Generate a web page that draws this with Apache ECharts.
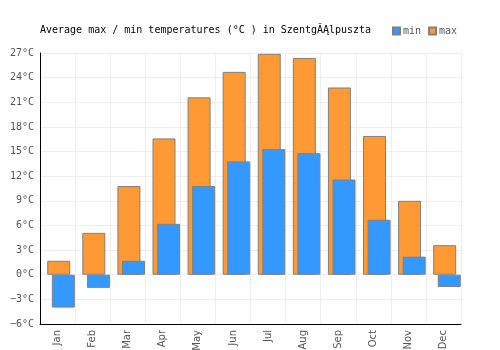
<!DOCTYPE html>
<html><head><meta charset="utf-8">
<script src="https://cdn.jsdelivr.net/npm/echarts@6/dist/echarts.min.js"></script>
<style>html,body{margin:0;padding:0;background:#fff}#c{width:500px;height:350px}</style>
</head><body><div id="c"></div>
<script>
var months = ['Jan','Feb','Mar','Apr','May','Jun','Jul','Aug','Sep','Oct','Nov','Dec'];
var maxTemps = [1.7, 5.1, 10.8, 16.6, 21.6, 24.7, 26.9, 26.4, 22.8, 16.9, 9.0, 3.6];
var minTemps = [-4.0, -1.6, 1.7, 6.2, 10.8, 13.8, 15.3, 14.8, 11.6, 6.7, 2.2, -1.5];
var titleText = 'Average max / min temperatures (°C ) in SzentgĂĄlpuszta';

var mono = 'DejaVu Sans Mono';
var chart = echarts.init(document.getElementById('c'), null, {renderer: 'canvas'});
var yBase = {min: -6, max: 27, interval: 3};
chart.setOption({
  animation: false,
  backgroundColor: '#fff',
  title: {text: titleText, left: 35, top: 20,
    textStyle: {fontFamily: mono, fontSize: 10, fontWeight: 'normal', color: '#000'}},
  legend: {data: ['min','max'], left: 387, top: 21, icon: 'rect', itemWidth: 7, itemHeight: 7,
    itemGap: 7, textStyle: {fontFamily: mono, fontSize: 10, color: '#555', padding: [0,0,0,-2]}},
  grid: [
    {left: 40, right: 39, top: 53, bottom: 26, containLabel: false, outerBoundsMode: 'none'},
    {left: 43.5, right: 35.5, top: 53, bottom: 26, containLabel: false, outerBoundsMode: 'none'}
  ],
  xAxis: [
    {type: 'category', gridIndex: 0, data: months, boundaryGap: true,
      axisLine: {show: false}, axisTick: {show: false},
      splitLine: {show: true, lineStyle: {color: '#eeeeee', width: 1}},
      axisLabel: {rotate: 90, margin: 6, fontFamily: 'DejaVu Sans', fontSize: 10, color: '#555', interval: 0}},
    {type: 'category', gridIndex: 0, data: months, position: 'bottom',
      axisLine: {show: true, onZero: true, lineStyle: {color: '#000', width: 1}},
      axisTick: {show: false}, axisLabel: {show: false}, splitLine: {show: false}},
    {type: 'category', gridIndex: 1, data: months, show: false}
  ],
  yAxis: [
    Object.assign({type: 'value', gridIndex: 0,
      axisLine: {show: true, onZero: false, lineStyle: {color: '#000', width: 1}},
      axisTick: {show: false},
      splitLine: {show: true, lineStyle: {color: '#eeeeee', width: 1}},
      axisLabel: {margin: 6, fontFamily: mono, fontSize: 10, color: '#555',
        formatter: function (v) { return String(v).replace('-', '\u2212') + '°C'; }}}, yBase),
    Object.assign({type: 'value', gridIndex: 1, show: false, splitLine: {show: false}}, yBase)
  ],
  series: [
    {name: 'max', type: 'bar', xAxisIndex: 2, yAxisIndex: 1, data: maxTemps,
      barWidth: 23, barGap: '-80%',
      itemStyle: {color: '#ff9933', borderColor: '#808080', borderWidth: 1}},
    {name: 'min', type: 'bar', xAxisIndex: 2, yAxisIndex: 1, data: minTemps,
      barWidth: 23, barGap: '-80%',
      itemStyle: {color: '#3399ff', borderColor: '#808080', borderWidth: 1}}
  ]
});
</script></body></html>
